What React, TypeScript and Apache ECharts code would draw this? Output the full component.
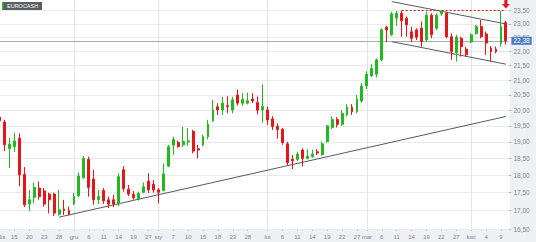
import React, { useEffect, useRef } from 'react';
import * as echarts from 'echarts';

// trading days (2018-11-09 .. 2019-04-10)
const dates: string[] = [
  '11-09','11-13','11-14','11-15','11-16','11-19','11-20','11-21','11-22','11-23',
  '11-26','11-27','11-28','11-29','11-30','12-03','12-04','12-05','12-06','12-07',
  '12-10','12-11','12-12','12-13','12-14','12-17','12-18','12-19','12-20','12-21',
  '12-27','12-28','01-02','01-03','01-04','01-07','01-08','01-09','01-10','01-11',
  '01-14','01-15','01-16','01-17','01-18','01-21','01-22','01-23','01-24','01-25',
  '01-28','01-29','01-30','01-31','02-01','02-04','02-05','02-06','02-07','02-08',
  '02-11','02-12','02-13','02-14','02-15','02-18','02-19','02-20','02-21','02-22',
  '02-25','02-26','02-27','02-28','03-01','03-04','03-05','03-06','03-07','03-08',
  '03-11','03-12','03-13','03-14','03-15','03-18','03-19','03-20','03-21','03-22',
  '03-25','03-26','03-27','03-28','03-29','04-01','04-02','04-03','04-04','04-05',
  '04-08','04-09','04-10',
];

// x-axis tick labels: [category index, text]
const tickLabels: [number, string][] = [
  [0, 'lis'], [3, '15'], [6, '20'], [9, '23'], [12, '28'], [15, 'gru'], [18, '6'], [21, '11'],
  [24, '14'], [27, '19'], [30, '27'], [32, 'sty'], [35, '7'], [38, '10'], [41, '15'], [44, '18'],
  [47, '23'], [50, '28'], [54, 'lut'], [57, '6'], [60, '11'], [63, '14'], [66, '19'], [69, '22'],
  [72, '27'], [74, 'mar'], [77, '6'], [80, '11'], [83, '14'], [86, '19'], [89, '22'], [92, '27'],
  [95, 'kwi'], [98, '4'], [101, '9'],
];
const monthStarts = [15, 32, 54, 74, 95];

// [open, close, low, high]
const candles: [number, number, number, number][] = [
  [19.78, 19.66, 19.59, 20.04], [19.62, 18.91, 18.72, 19.69], [18.80, 18.93, 18.21, 19.12], [18.85, 19.03, 18.69, 19.28],
  [19.11, 18.01, 17.68, 19.26], [18.03, 17.16, 17.10, 18.24], [17.18, 17.30, 16.98, 17.58], [17.37, 17.65, 17.21, 17.79],
  [17.63, 17.39, 17.30, 17.82], [17.55, 17.18, 17.11, 17.63], [17.46, 17.30, 16.92, 17.50], [17.46, 16.93, 16.85, 17.50],
  [16.90, 17.02, 16.86, 17.58], [17.04, 17.00, 16.88, 17.30], [17.00, 16.90, 16.87, 17.11], [17.18, 17.39, 17.15, 17.49],
  [17.41, 17.98, 17.38, 18.08], [17.93, 18.50, 17.90, 18.57], [18.47, 17.65, 17.39, 18.55], [17.89, 17.30, 17.16, 18.16],
  [17.30, 17.39, 17.18, 17.58], [17.56, 17.27, 17.18, 17.63], [17.30, 17.18, 17.07, 17.39], [17.30, 17.18, 17.10, 17.44],
  [17.18, 17.96, 17.12, 18.06], [18.16, 17.62, 17.53, 18.27], [17.60, 17.46, 17.40, 17.72], [17.45, 17.36, 17.30, 17.55],
  [17.32, 17.48, 17.28, 17.53], [17.51, 17.67, 17.48, 17.79], [17.83, 17.58, 17.49, 18.06], [17.74, 17.58, 17.50, 17.86],
  [17.58, 17.51, 17.20, 17.63], [17.56, 18.04, 17.54, 18.35], [18.27, 18.85, 18.24, 18.91], [18.90, 19.08, 18.60, 19.16],
  [18.98, 18.86, 18.82, 19.04], [18.91, 19.01, 18.84, 19.47], [19.00, 19.03, 18.88, 19.43], [19.32, 18.72, 18.65, 19.37],
  [18.79, 18.75, 18.50, 18.91], [18.91, 19.16, 18.87, 19.22], [19.16, 19.55, 19.08, 19.69], [19.66, 20.01, 19.63, 20.34],
  [20.11, 20.01, 19.85, 20.23], [20.01, 20.23, 19.85, 20.44], [20.15, 20.12, 19.90, 20.46], [20.01, 20.34, 19.90, 20.44],
  [20.50, 20.23, 20.15, 20.68], [20.23, 20.36, 20.14, 20.56], [20.23, 20.31, 20.19, 20.58], [20.37, 20.30, 20.23, 20.56],
  [20.25, 20.00, 19.86, 20.45], [20.01, 20.12, 19.60, 20.85], [20.01, 19.69, 19.53, 20.12], [19.72, 19.48, 19.37, 19.81],
  [19.48, 19.39, 19.10, 19.58], [19.39, 18.98, 18.91, 19.43], [18.94, 18.37, 18.30, 19.00], [18.47, 18.43, 18.18, 18.60],
  [18.47, 18.63, 18.42, 18.70], [18.75, 18.50, 18.26, 18.80], [18.50, 18.57, 18.47, 18.78], [18.55, 18.63, 18.52, 18.75],
  [18.70, 18.66, 18.60, 18.78], [18.61, 18.94, 18.58, 19.01], [19.01, 19.50, 18.98, 19.53], [19.45, 19.70, 19.40, 19.80],
  [19.70, 19.55, 19.45, 19.78], [19.55, 19.90, 19.50, 20.00], [19.85, 20.10, 19.80, 20.20], [20.10, 19.95, 19.85, 20.20],
  [19.95, 20.35, 19.90, 20.50], [20.30, 20.80, 20.25, 20.90], [20.80, 21.20, 20.70, 21.30], [21.15, 21.40, 21.10, 21.55],
  [21.20, 21.70, 21.10, 21.75], [21.70, 22.78, 21.65, 22.84], [22.88, 22.78, 22.33, 22.94], [22.60, 23.38, 22.55, 23.46],
  [23.22, 23.40, 22.93, 23.50], [23.40, 23.12, 22.53, 23.50], [23.21, 22.97, 22.53, 23.28], [22.71, 22.47, 22.33, 22.90],
  [22.78, 22.51, 22.41, 22.84], [22.84, 22.35, 22.17, 23.09], [22.41, 23.33, 22.35, 23.46], [23.33, 22.60, 22.47, 23.40],
  [22.84, 23.33, 22.78, 23.40], [23.38, 23.48, 23.30, 23.52], [23.40, 22.53, 22.47, 23.46], [22.53, 22.00, 21.70, 22.65],
  [21.95, 22.51, 21.64, 22.60], [22.47, 22.17, 21.82, 22.53], [22.08, 21.88, 21.82, 22.17], [22.34, 22.60, 22.30, 22.65],
  [22.65, 22.90, 22.60, 22.96], [22.90, 22.53, 22.47, 23.15], [22.63, 22.30, 21.88, 22.72], [22.11, 21.99, 21.64, 22.19],
  [22.08, 21.99, 21.93, 22.17], [22.29, 22.90, 22.17, 23.48], [23.05, 22.38, 22.25, 23.12],
];

const priceTicks = [16.5, 17, 17.5, 18, 18.5, 19, 19.5, 20, 20.5, 21, 21.5, 22, 22.5, 23, 23.5];
const yMin = 16.5;
const yMax = 23.91;
const lastPrice = 22.38;
const periodLow: [number, number] = [11, 16.85];
const periodHigh: [number, number] = [89, 23.52];
const supportLine: [number, number][] = [[12, 16.82], [102, 19.8]];
const channelTop: [number, number][] = [[79, 23.85], [102, 23.0]];
const channelBottom: [number, number][] = [[79, 22.35], [102, 21.55]];
const resistance: [number, number][] = [[81, 23.5], [102, 23.5]];
const arrowAt: [number, number] = [102, 23.76];

const GREEN = '#22b822';
const RED = '#e3161b';
const fmt = (v: number) => v.toFixed(2).replace('.', ',');
const labelMap = new Map<number, string>(tickLabels);
const seg = (pts: [number, number][]) => pts.map((p) => ({ coord: [dates[p[0]], p[1]] }));

export default function App() {
  const ref = useRef<HTMLDivElement>(null);
  useEffect(() => {
    const chart = echarts.init(ref.current!, null, { renderer: 'svg' });
    const gridLines = priceTicks.map((v) => ({
      yAxis: v,
      lineStyle: { color: '#e8eaed', width: 1, type: 'solid' },
      label: { show: false },
    }));
    const monthLines = monthStarts.map((i) => ({
      xAxis: dates[i],
      lineStyle: { color: '#e1e3e6', width: 1, type: 'solid' },
      label: { show: false },
    }));
    const option: any = {
      animation: false,
      backgroundColor: '#ffffff',
      textStyle: { fontFamily: 'Liberation Sans, Arial, sans-serif' },
      grid: { left: -3, top: 0, width: 511.4, height: 229, containLabel: false, outerBoundsMode: 'none' },
      xAxis: {
        type: 'category',
        data: dates,
        boundaryGap: true,
        axisLine: { show: false },
        axisTick: {
          show: true,
          alignWithLabel: true,
          interval: (i: number) => labelMap.has(i),
          length: 2,
          lineStyle: { color: '#b5b9be' },
        },
        axisLabel: {
          interval: (i: number) => labelMap.has(i),
          formatter: (_v: string, i: number) => labelMap.get(i) ?? '',
          fontSize: 6,
          color: '#80858b',
          margin: 5,
          alignMinLabel: 'left',
        },
        splitLine: { show: false },
      },
      yAxis: {
        type: 'log',
        logBase: 10,
        min: yMin,
        max: yMax,
        position: 'right',
        axisLine: { show: false },
        axisTick: { show: true, customValues: priceTicks, length: 3, lineStyle: { color: '#b5b9be' } },
        axisLabel: { customValues: priceTicks, formatter: (v: number) => fmt(v), fontSize: 6.5, color: '#80858b', margin: 5 },
        splitLine: { show: false },
      },
      graphic: [
        { type: 'rect', z: -5, silent: true, shape: { x: 510, y: 0, width: 26, height: 242 }, style: { fill: '#eef0f3' } },
        { type: 'rect', z: -5, silent: true, shape: { x: 0, y: 229, width: 536, height: 13 }, style: { fill: '#eef0f3' } },
        { type: 'rect', z: 20, shape: { x: 2, y: 2, width: 40, height: 8 }, style: { fill: '#5b5d60' } },
        { type: 'rect', z: 21, shape: { x: 2, y: 2, width: 1.5, height: 8 }, style: { fill: '#2fb52f' } },
        {
          type: 'text', z: 22, x: 7, y: 6,
          style: { text: 'EUROCASH', fill: '#ffffff', fontSize: 5.5, fontFamily: 'Liberation Sans, Arial, sans-serif', verticalAlign: 'middle' },
        },
      ],
      series: [
        {
          type: 'line',
          data: [],
          z: 1,
          silent: true,
          markLine: {
            silent: true,
            symbol: ['none', 'none'],
            animation: false,
            data: [
              ...gridLines,
              ...monthLines,
              {
                yAxis: lastPrice,
                lineStyle: { color: '#a3adb8', width: 1, type: 'solid' },
                label: {
                  show: true,
                  position: 'end',
                  distance: 3,
                  formatter: fmt(lastPrice),
                  fontSize: 6.5,
                  color: '#ffffff',
                  backgroundColor: '#4a7cc2',
                  padding: [1, 2, 0, 2],
                },
              },
            ],
          },
        },
        {
          type: 'candlestick',
          z: 5,
          data: candles,
          barWidth: 2.4,
          itemStyle: { color: GREEN, color0: RED, borderColor: GREEN, borderColor0: RED, borderWidth: 1 },
          markLine: {
            silent: true,
            symbol: ['none', 'none'],
            animation: false,
            label: { show: false },
            data: [
              seg(supportLine).map((d) => ({ ...d, lineStyle: { color: '#555a60', width: 1, type: 'solid' } })),
              seg(channelTop).map((d) => ({ ...d, lineStyle: { color: '#555a60', width: 1, type: 'solid' } })),
              seg(channelBottom).map((d) => ({ ...d, lineStyle: { color: '#555a60', width: 1, type: 'solid' } })),
              seg(resistance).map((d) => ({ ...d, lineStyle: { color: RED, width: 1, type: [2, 2] } })),
            ],
          },
          markPoint: {
            silent: true,
            animation: false,
            data: [
              {
                coord: [dates[arrowAt[0]], arrowAt[1]],
                symbol: 'path://M3,0 L7,0 L7,5 L10,5 L5,10 L0,5 L3,5 Z',
                symbolSize: [8, 9],
                itemStyle: { color: RED },
                label: { show: false },
              },
              {
                coord: [dates[periodHigh[0]], periodHigh[1]],
                symbol: 'none',
                symbolSize: 0,
                label: { show: true, position: 'top', distance: 2, formatter: fmt(periodHigh[1]), fontSize: 6.5, color: '#666a70' },
              },
              {
                coord: [dates[periodLow[0]], periodLow[1]],
                symbol: 'none',
                symbolSize: 0,
                label: { show: true, position: 'bottom', distance: 5, formatter: fmt(periodLow[1]), fontSize: 6.5, color: '#d9414a' },
              },
            ],
          },
        },
      ],
    };
    chart.setOption(option);
    return () => chart.dispose();
  }, []);
  return <div ref={ref} style={{ position: 'fixed', left: 0, top: 0, width: 536, height: 242 }} />;
}
